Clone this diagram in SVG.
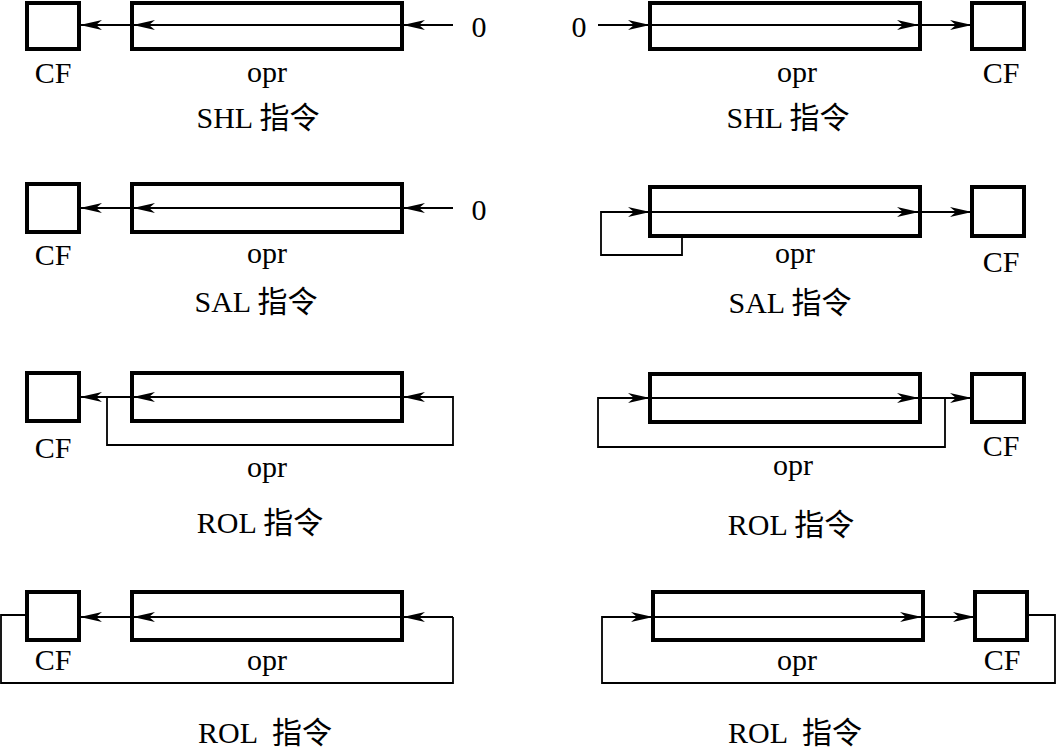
<svg xmlns="http://www.w3.org/2000/svg" width="1056" height="750" viewBox="0 0 1056 750">
<style>
.box{fill:none;stroke:#000;stroke-width:4}
.ln{fill:none;stroke:#000;stroke-width:1.8}
.ar{marker-end:url(#ah)}
text{font-family:"Liberation Serif","Noto Sans CJK SC",serif;font-size:30px;fill:#000;text-anchor:middle}
</style>
<defs>
<marker id="ah" markerUnits="userSpaceOnUse" markerWidth="24" markerHeight="12" refX="22" refY="6" orient="auto">
<path d="M0,1 L22,6 L0,11 L6,6 Z" fill="#000"/>
</marker>
</defs>
<rect width="1056" height="750" fill="#fff"/>

<g id="p1">
<rect id="p1-cf" class="box" x="27" y="3" width="52" height="46"/>
<rect id="p1-opr" class="box" x="132" y="3" width="270" height="46"/>
<text x="479" y="37">0</text>
<text x="53" y="83">CF</text>
<text x="267" y="82">opr</text>
<text x="258" y="128">SHL 指令</text>
</g>
<g id="p2">
<rect id="p2-opr" class="box" x="650" y="3" width="270" height="46"/>
<rect id="p2-cf" class="box" x="972" y="3" width="52" height="46"/>
<text x="579" y="37">0</text>
<text x="797" y="82">opr</text>
<text x="1001" y="83">CF</text>
<text x="788" y="128">SHL 指令</text>
</g>
<g id="p3">
<rect id="p3-cf" class="box" x="27" y="184" width="52" height="48"/>
<rect id="p3-opr" class="box" x="132" y="184" width="270" height="48"/>
<text x="479" y="220">0</text>
<text x="53" y="265">CF</text>
<text x="267" y="263">opr</text>
<text x="256" y="312">SAL 指令</text>
</g>
<g id="p4">
<rect id="p4-opr" class="box" x="650" y="187" width="270" height="49"/>
<rect id="p4-cf" class="box" x="972" y="187" width="52" height="49"/>
<text x="795" y="263">opr</text>
<text x="1001" y="272">CF</text>
<text x="790" y="313">SAL 指令</text>
</g>
<g id="p5">
<rect id="p5-cf" class="box" x="27" y="373" width="52" height="48"/>
<rect id="p5-opr" class="box" x="132" y="373" width="270" height="48"/>
<text x="53" y="458">CF</text>
<text x="267" y="477">opr</text>
<text x="260" y="533">ROL 指令</text>
</g>
<g id="p6">
<rect id="p6-opr" class="box" x="650" y="374" width="270" height="48"/>
<rect id="p6-cf" class="box" x="972" y="374" width="52" height="48"/>
<text x="793" y="475">opr</text>
<text x="1001" y="456">CF</text>
<text x="791" y="535">ROL 指令</text>
</g>
<g id="p7">
<rect id="p7-cf" class="box" x="27" y="592" width="52" height="48"/>
<rect id="p7-opr" class="box" x="132" y="592" width="270" height="48"/>
<text x="53" y="670">CF</text>
<text x="267" y="670">opr</text>
<text x="265" y="743" xml:space="preserve">ROL  指令</text>
</g>
<g id="p8">
<rect id="p8-opr" class="box" x="653" y="592" width="270" height="48"/>
<rect id="p8-cf" class="box" x="975" y="592" width="52" height="48"/>
<text x="797" y="670">opr</text>
<text x="1002" y="670">CF</text>
<text x="795" y="743" xml:space="preserve">ROL  指令</text>
</g>

<g id="connectors">
<!-- p1 -->
<line class="ln ar" x1="453" y1="25" x2="403" y2="25"/>
<line class="ln ar" x1="403" y1="25" x2="133" y2="25"/>
<line class="ln ar" x1="133" y1="25" x2="80" y2="25"/>
<!-- p2 -->
<line class="ln ar" x1="598" y1="25" x2="650" y2="25"/>
<line class="ln ar" x1="650" y1="25" x2="919" y2="25"/>
<line class="ln ar" x1="919" y1="25" x2="972" y2="25"/>
<!-- p3 -->
<line class="ln ar" x1="453" y1="208" x2="403" y2="208"/>
<line class="ln ar" x1="403" y1="208" x2="133" y2="208"/>
<line class="ln ar" x1="133" y1="208" x2="80" y2="208"/>
<!-- p4 -->
<path class="ln ar" d="M682,237 V255 H601 V212 H650"/>
<line class="ln ar" x1="650" y1="212" x2="919" y2="212"/>
<line class="ln ar" x1="919" y1="212" x2="972" y2="212"/>
<!-- p5 -->
<path class="ln ar" d="M107,397 V445 H453 V397 H403"/>
<line class="ln ar" x1="403" y1="397" x2="133" y2="397"/>
<line class="ln ar" x1="133" y1="397" x2="80" y2="397"/>
<!-- p6 -->
<path class="ln ar" d="M945,398 V447 H598 V398 H650"/>
<line class="ln ar" x1="650" y1="398" x2="919" y2="398"/>
<line class="ln ar" x1="919" y1="398" x2="972" y2="398"/>
<!-- p7 -->
<path class="ln" d="M27,615 H1 V683 H453 V617"/>
<line class="ln ar" x1="453" y1="617" x2="403" y2="617"/>
<line class="ln ar" x1="403" y1="617" x2="133" y2="617"/>
<line class="ln ar" x1="133" y1="617" x2="80" y2="617"/>
<!-- p8 -->
<path class="ln ar" d="M1028,615 H1055 V683 H602 V617 H653"/>
<line class="ln ar" x1="653" y1="617" x2="922" y2="617"/>
<line class="ln ar" x1="922" y1="617" x2="975" y2="617"/>
</g>
</svg>
